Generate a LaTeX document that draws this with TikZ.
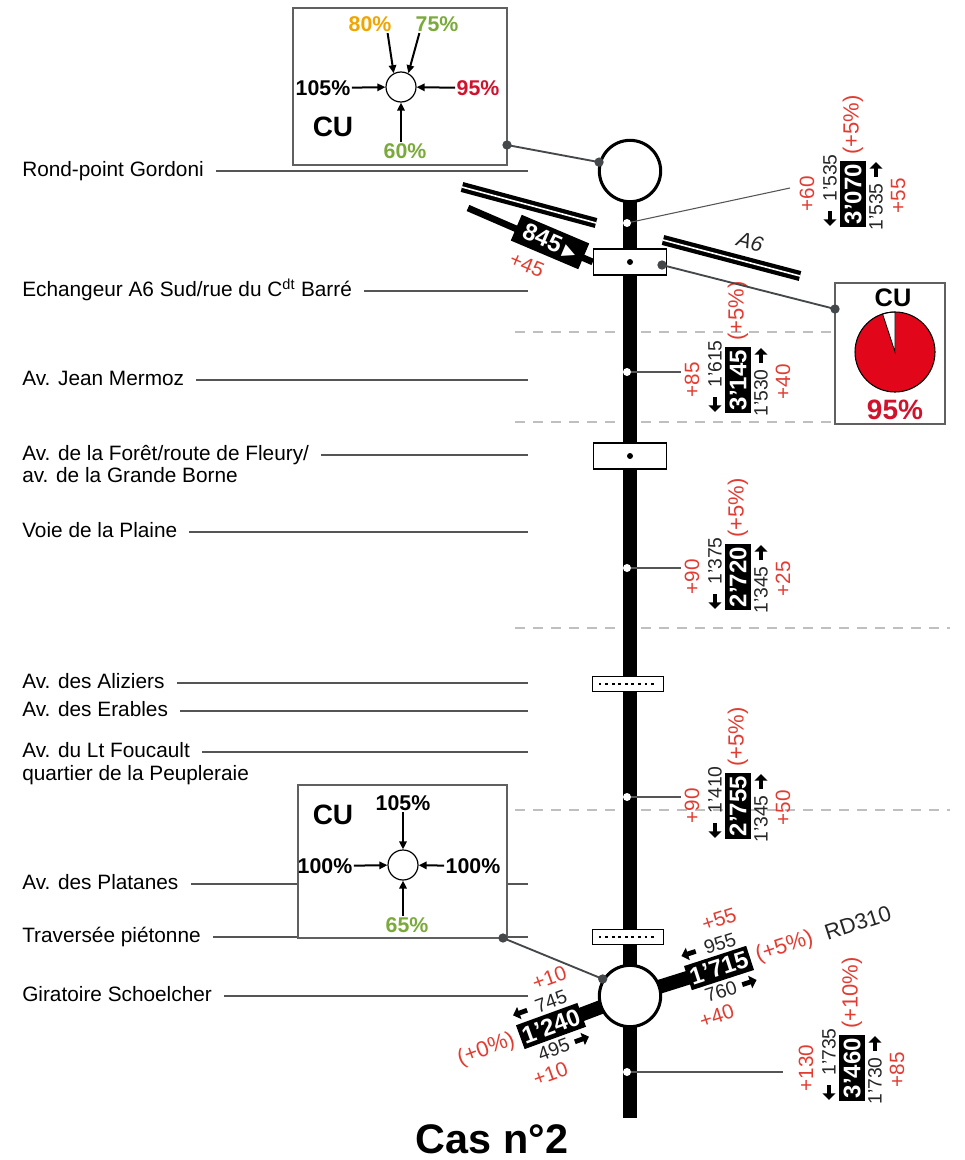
\documentclass[tikz,border=0pt]{standalone}
\usepackage{fontspec}
\setmainfont{Liberation Sans}
\newfontfamily\symb{DejaVu Sans}
\usetikzlibrary{arrows.meta}

\definecolor{cred}{RGB}{226,60,50}
\definecolor{cdred}{RGB}{208,18,44}
\definecolor{pired}{RGB}{226,6,26}
\definecolor{corange}{RGB}{240,165,0}
\definecolor{cgreen}{RGB}{122,170,58}
\definecolor{lgray}{RGB}{85,85,85}
\definecolor{dgray}{RGB}{68,72,74}

\tikzset{
  lbl/.style={anchor=west,inner sep=0pt,text height=11pt,text depth=3pt,font=\fontsize{15.6}{17}\selectfont},
  lbline/.style={lgray,line width=0.8pt},
  road/.style={line width=10.5pt},
  ramp/.style={line width=5pt},
  a6/.style={line width=3.2pt,double=white,double distance=1.2pt},
  rp/.style={circle,draw,line width=2.3pt,fill=white,minimum size=46pt,inner sep=0pt},
  carrefour/.style={draw,fill=white,line width=0.8pt,minimum width=55pt,minimum height=19.5pt,inner sep=0pt},
  pieton/.style={draw,fill=white,line width=0.8pt,minimum width=53pt,minimum height=11pt,inner sep=0pt},
  pointilles/.style={line width=1.6pt,dash pattern=on 2pt off 2.9pt},
  wdot/.style={circle,fill=white,minimum size=6pt,inner sep=0pt},
  bdot/.style={circle,fill=black,minimum size=4.5pt,inner sep=0pt},
  gdot/.style={circle,fill=dgray,minimum size=7pt,inner sep=0pt},
  conn/.style={dgray,line width=1.4pt},
  sepline/.style={gray!50,line width=0.8pt,dash pattern=on 7.5pt off 6pt},
  cubox/.style={draw=gray!75!black,fill=white,line width=1.1pt},
  cuc/.style={circle,draw,fill=white,line width=0.9pt,minimum size=22.5pt,inner sep=0pt},
  cupct/.style={font=\fontsize{16}{16}\bfseries,inner sep=1pt},
  cutitle/.style={font=\fontsize{21}{21}\bfseries,inner sep=0pt},
  cuarr/.style={line width=1.5pt,-{Triangle[length=6pt,width=5.5pt]}},
  tot/.style={fill=black,text=white,font=\fontsize{18}{18}\bfseries,inner sep=0pt,minimum width=49pt,minimum height=19pt},
  num/.style={font=\fontsize{14.5}{15}\selectfont,text=black!85,inner sep=0pt},
  delta/.style={font=\fontsize{15.5}{16}\selectfont,text=cred,inner sep=0pt},
  pct/.style={font=\fontsize{16.5}{17}\selectfont,text=cred,inner sep=0pt,inner xsep=4.5pt},
  sensfl/.style={line width=3.6pt,-{Triangle[length=5pt,width=9.5pt]}},
}

% groupe de comptages: nom, position, angle, total, haut, +haut, bas, +bas, decalage
\newcommand\flux[9]{%
  \begin{scope}[shift={#2},rotate=#3]
    \node[tot,rotate=#3] (#1) at (0,0) {#4};
    \node[num,rotate=#3,anchor=west] (#1-hn) at (-8,-23) {#5};
    \draw[sensfl] (-17,-23) -- (-32,-23);
    \node[delta,rotate=#3] (#1-hd) at (#9,-46) {#6};
    \node[num,rotate=#3,anchor=east] (#1-bn) at (11,23) {#7};
    \draw[sensfl] (17,23) -- (32,23);
    \node[delta,rotate=#3] (#1-bd) at (-#9-2,45) {#8};
  \end{scope}}

\begin{document}
\begin{tikzpicture}[x=0.75pt,y=-0.75pt]
\useasboundingbox (0,0) rectangle (964,1160);
\coordinate (rx) at (528,0);
\coordinate (haut) at (630,171);
\coordinate (bas) at (630,996);
\coordinate (fin) at (630,1118);
\coordinate (o1715) at (719,968);
\coordinate (o1240) at (551,1026);
\coordinate (rampA) at (468,208);

% libelles
\node[lbl] (l1) at (22,171) {Rond-point Gordoni};
\node[lbl] (l2) at (22,291) {Echangeur A6 Sud/rue du C\textsuperscript{dt} Barré};
\node[lbl] (l3) at (22,380) {Av. Jean Mermoz};
\node[lbl] (l4) at (22,455) {Av. de la Forêt/route de Fleury/};
\node[lbl] (l4b) at (22,477) {av. de la Grande Borne};
\node[lbl] (l5) at (22,532) {Voie de la Plaine};
\node[lbl] (l6) at (22,683) {Av. des Aliziers};
\node[lbl] (l7) at (22,711) {Av. des Erables};
\node[lbl] (l8) at (22,752) {Av. du Lt Foucault};
\node[lbl] (l8b) at (22,775) {quartier de la Peupleraie};
\node[lbl] (l9) at (22,884) {Av. des Platanes};
\node[lbl] (l10) at (22,937) {Traversée piétonne};
\node[lbl] (l11) at (22,996) {Giratoire Schoelcher};
\foreach \n in {l1,l2,l3,l4,l5,l6,l7,l8,l9,l10,l11}
  \draw[lbline] ([xshift=9pt]\n.east) -- (\n.east -| rx);

% separations
\draw[sepline] (515,332) -- (835,332);
\draw[sepline] (515,422) -- (835,422);
\draw[sepline] (515,628) -- (950,628);
\draw[sepline] (515,810) -- (950,810);

% axe
\draw[road] (haut) -- (fin);
\draw[road] (bas) -- (o1715);
\draw[road] (bas) -- (o1240);
\draw[a6] (462,187) -- (596,223);
\draw[a6] (663,240) -- (800,276);
\node[font=\fontsize{16}{16}\itshape,text=black!85,rotate=-15] (a6lbl) at (750,242) {A6};

\node[rp] (rp1) at (haut) {};
\node[rp] (rp2) at (bas) {};
\node[carrefour] (ech) at (630,262) {};
\node[bdot] (echc) at (ech) {};
\node[carrefour] (foret) at (630,456) {};
\node[bdot] (foretc) at (foret) {};
\node[pieton] (aliz) at (628,684) {};
\draw[pointilles] ([xshift=5pt]aliz.west) -- ([xshift=-5pt]aliz.east);
\node[pieton] (trav) at (628,937) {};
\draw[pointilles] ([xshift=5pt]trav.west) -- ([xshift=-5pt]trav.east);

\draw[ramp] (rampA) -- (ech.west);
\node[tot,rotate=-23,minimum width=55pt,minimum height=21pt] (b845) at (550,242) {845\,{\symb\fontsize{12.5}{12.5}\selectfont ▶}};
\node[delta,rotate=-23] (b845-d) at (527,265) {+45};

% points de comptage
\node[wdot] (d1) at (627,223) {};
\node[wdot] (d2) at (627,372) {};
\node[wdot] (d3) at (627,568) {};
\node[wdot] (d4) at (627,797) {};
\node[wdot] (d5) at (627,1072) {};
\coordinate (e1) at (790,188);
\coordinate (e2) at (681,372);
\coordinate (e3) at (681,568);
\coordinate (e4) at (681,797);
\coordinate (e5) at (783,1072);
\foreach \i in {1,...,5}
  \draw[lbline] (d\i) -- (e\i);

% comptages
\flux{t3070}{(853,194)}{90}{3'070}{1'535}{+60}{1'535}{+55}{0}
\flux{t3145}{(738,380)}{90}{3'145}{1'615}{+85}{1'530}{+40}{0}
\flux{t2720}{(738,577)}{90}{2'720}{1'375}{+90}{1'345}{+25}{0}
\flux{t2755}{(738,806)}{90}{2'755}{1'410}{+90}{1'345}{+50}{0}
\flux{t3460}{(852,1068)}{90}{3'460}{1'735}{+130}{1'730}{+85}{0}
\flux{t1715}{(o1715)}{18}{1'715}{955}{+55}{760}{+40}{15}
\flux{t1240}{(o1240)}{20}{1'240}{745}{+10}{495}{+10}{15}
\node[pct,rotate=90,anchor=west] (t3070-p) at (t3070.east) {(+5\%)};
\node[pct,rotate=90,anchor=west] (t3145-p) at (t3145.east) {(+5\%)};
\node[pct,rotate=90,anchor=west] (t2720-p) at (t2720.east) {(+5\%)};
\node[pct,rotate=90,anchor=west] (t2755-p) at (t2755.east) {(+5\%)};
\node[pct,rotate=90,anchor=west] (t3460-p) at (t3460.east) {(+10\%)};
\node[pct,rotate=18,anchor=west] (t1715-p) at (t1715.east) {(+5\%)};
\node[font=\fontsize{16.5}{17}\selectfont,text=black!85,rotate=18,anchor=west,inner sep=0pt,inner xsep=5pt] (rd310) at (t1715-p.east) {RD310};
\node[pct,rotate=20,anchor=east] (t1240-p) at (t1240.west) {(+0\%)};

% CU Gordoni
\draw[cubox] (293,8) rectangle (507,165);
\node[cuc] (cu1c) at (401,87) {};
\node[cutitle] (cu1t) at (333,127) {CU};
\node[cupct,text=corange] (p80) at (370,24) {80\%};
\node[cupct,text=cgreen] (p75) at (437,24) {75\%};
\node[cupct] (p105) at (323,88) {105\%};
\node[cupct,text=cdred] (p95) at (478,88) {95\%};
\node[cupct,text=cgreen] (p60) at (405,151) {60\%};
\draw[cuarr] ([xshift=-4pt]p80.south east) -- (cu1c.118);
\draw[cuarr] ([xshift=4pt]p75.south west) -- (cu1c.62);
\draw[cuarr] (p105) -- (cu1c);
\draw[cuarr] (p95) -- (cu1c);
\draw[cuarr] (p60.north -| cu1c) -- (cu1c);
\coordinate (k1) at (507,145);
\draw[conn] (k1) -- (rp1.164);
\node[gdot] (k1a) at (k1) {};
\node[gdot] (k1b) at (rp1.164) {};

% CU echangeur
\draw[cubox] (835,283) rectangle (945,424);
\node[cutitle,font=\fontsize{19}{19}\bfseries] (cu3t) at (893,298) {CU};
\coordinate (pie) at (895,352);
\fill[pired] (pie) circle [radius=30pt];
\filldraw[fill=white,draw=black,line width=0.6pt] (pie) -- ++(-90:40) arc (-90:-108:40) -- cycle;
\draw[line width=0.8pt] (pie) circle [radius=30pt];
\node[cutitle,text=cdred] (cu3p) at (895,410) {95\%};
\coordinate (k3) at (662,265);
\coordinate (k3e) at (835,309);
\draw[conn] (k3) -- (k3e);
\node[gdot] (k3a) at (k3) {};
\node[gdot] (k3b) at (k3e) {};

% CU Schoelcher
\draw[cubox] (298,785) rectangle (507,938);
\node[cuc] (cu2c) at (403,865) {};
\node[cutitle] (cu2t) at (333,815) {CU};
\node[cupct] (q105) at (403,803) {105\%};
\node[cupct] (q100l) at (325,866) {100\%};
\node[cupct] (q100r) at (473,866) {100\%};
\node[cupct,text=cgreen] (q65) at (407,925) {65\%};
\draw[cuarr] (q105.south -| cu2c) -- (cu2c);
\draw[cuarr] (q100l) -- (cu2c);
\draw[cuarr] (q100r) -- (cu2c);
\draw[cuarr] (q65.north -| cu2c) -- (cu2c);
\coordinate (k2) at (503,938);
\draw[conn] (k2) -- (rp2.148);
\node[gdot] (k2a) at (k2) {};
\node[gdot] (k2b) at (rp2.148) {};

\node[font=\fontsize{31}{31}\bfseries,anchor=base,inner sep=0pt] (titre) at (492,1153) {Cas n°2};
\end{tikzpicture}
\end{document}
